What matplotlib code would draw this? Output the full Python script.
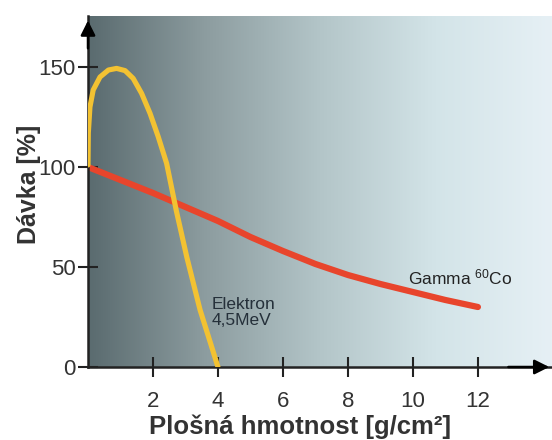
"""Dose vs. areal density: electron 4.5 MeV vs. gamma 60Co."""

import numpy as np
import matplotlib
matplotlib.use("Agg")
import matplotlib.pyplot as plt
from matplotlib.colors import LinearSegmentedColormap

plt.rcParams["font.family"] = ["Liberation Sans", "DejaVu Sans"]

# values
electron_x = [0, 0.01, 0.06, 0.16, 0.37, 0.63, 0.88, 1.14, 1.39, 1.65, 1.91,
              2.16, 2.42, 2.72, 3.04, 3.45, 3.75, 4.0]
electron_y = [101, 117, 130, 138.5, 145, 148.5, 149.3, 148.2, 144.3, 136.8, 126.8,
              115.2, 101.8, 78, 55, 28.5, 13, 0]
gamma_x = [0, 1, 2, 3, 4, 5, 6, 7, 8, 9, 10, 11, 12]
gamma_y = [100, 93.5, 87, 80, 73, 65, 58, 51.5, 46, 41.5, 37.5, 33.5, 30]
x_ticks = [2, 4, 6, 8, 10, 12]
y_ticks = [0, 50, 100, 150]

fig = plt.figure(figsize=(5.52, 4.4), dpi=100)
ax = fig.add_axes([88 / 552, 73 / 440, 464 / 552, 351 / 440])
xmax, ymax = 14.28, 175.5
ax.set_xlim(0, xmax)
ax.set_ylim(0, ymax)

# horizontal gradient background
bg = LinearSegmentedColormap.from_list(
    "bg", [(0, "#5a6b6f"), (0.25, "#8c9c9f"), (0.5, "#b3c5c8"), (0.75, "#d3e4e8"), (1, "#e6f0f5")])
ax.imshow(np.linspace(0, 1, 256)[None, :], cmap=bg, aspect="auto",
          extent=[0, xmax, 0, ymax], zorder=0)

ax.plot(gamma_x, gamma_y, color="#e8452c", lw=4.5, solid_capstyle="round", zorder=2)
ax.plot(electron_x, electron_y, color="#f3c232", lw=3.7, solid_capstyle="round",
        solid_joinstyle="round", zorder=3)

ax.text(3.8, 27.3, "Elektron\n4,5MeV", fontsize=12.5, color="#25303a", va="center",
        linespacing=1.05)
ax.text(9.85, 45, "Gamma $\\mathregular{^{60}}$Co", fontsize=12.5, color="#222222",
        va="center")

for s in ("top", "right"):
    ax.spines[s].set_visible(False)
for s in ("left", "bottom"):
    ax.spines[s].set_linewidth(1.8)
    ax.spines[s].set_color("#222222")

ax.set_xticks(x_ticks)
ax.set_yticks(y_ticks)
ax.tick_params(direction="inout", length=14, width=1.5, color="#222222",
               labelsize=16, labelcolor="#333333")
ax.tick_params(axis="y", pad=2)
ax.tick_params(axis="x", pad=10)

# arrow heads on the axes
ax.annotate("", xy=(0, 0.995), xytext=(0, 0.9), xycoords="axes fraction",
            arrowprops=dict(arrowstyle="-|>", mutation_scale=22, color="black", lw=1.8))
ax.annotate("", xy=(1.0, 0), xytext=(0.9, 0), xycoords="axes fraction",
            arrowprops=dict(arrowstyle="-|>", mutation_scale=22, color="black", lw=1.8),
            annotation_clip=False)

ax.set_xlabel("Plošná hmotnost [g/cm²]", fontsize=18.5, fontweight="bold", color="#333333",
              va="center")
ax.xaxis.set_label_coords(0.457, -0.171)
ax.set_ylabel("Dávka [%]", fontsize=18, fontweight="bold", color="#333333", va="center")
ax.yaxis.set_label_coords(-0.128, 0.521)

fig.savefig("out.png", dpi=100)
